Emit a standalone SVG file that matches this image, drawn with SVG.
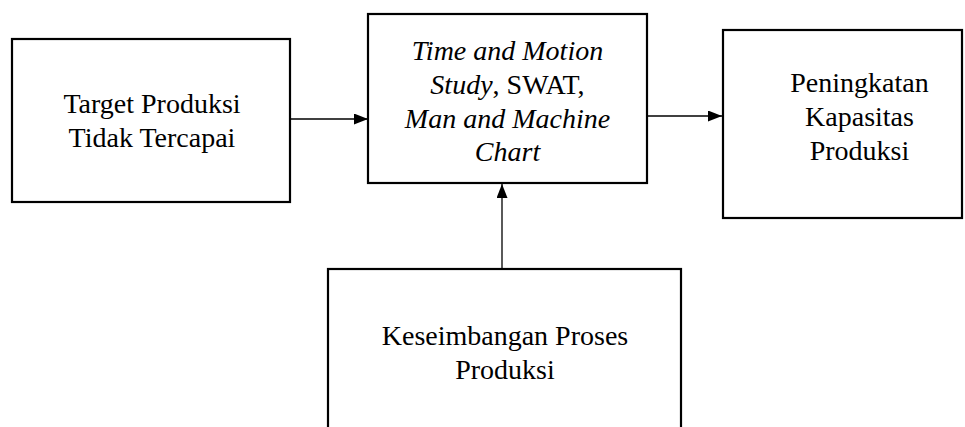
<svg xmlns="http://www.w3.org/2000/svg" width="965" height="427" viewBox="0 0 965 427">
<style>
.box{fill:#fff;stroke:#000;stroke-width:2.2}
.t{font-family:"Liberation Serif","Times New Roman",serif;font-size:28px;fill:#000;text-anchor:middle}
.i{font-style:italic}
.c{stroke:#000;stroke-width:1.3;fill:none}
</style>
<defs>
<marker id="ah" markerWidth="14" markerHeight="11" refX="14" refY="5.5" orient="auto" markerUnits="userSpaceOnUse">
<path d="M0,0 L14,5.5 L0,11 Z" fill="#000"/>
</marker>
</defs>
<rect width="965" height="427" fill="#fff"/>
<g id="connectors">
<line class="c" x1="290" y1="119" x2="368" y2="119" marker-end="url(#ah)"/>
<line class="c" x1="641" y1="116" x2="722" y2="116" marker-end="url(#ah)"/>
<line class="c" x1="502" y1="269" x2="502" y2="184" marker-end="url(#ah)"/>
</g>
<g id="target">
<rect class="box" x="12" y="39" width="278" height="163"/>
<text class="t" x="152" y="113">Target Produksi</text>
<text class="t" x="152" y="146.5">Tidak Tercapai</text>
</g>
<g id="method">
<rect class="box" x="368" y="14" width="279" height="169"/>
<text class="t" x="507.5" y="59.5"><tspan class="i">Time and Motion</tspan></text>
<text class="t" x="507.5" y="93.5"><tspan class="i">Study</tspan>, SWAT,</text>
<text class="t" x="507.5" y="127.5"><tspan class="i">Man and Machine</tspan></text>
<text class="t i" x="507.5" y="160.5">Chart</text>
</g>
<g id="result">
<rect class="box" x="723" y="30" width="239" height="188"/>
<text class="t" x="859.5" y="92">Peningkatan</text>
<text class="t" x="859.5" y="126">Kapasitas</text>
<text class="t" x="859.5" y="160">Produksi</text>
</g>
<g id="balance">
<rect class="box" x="328" y="269" width="353" height="180"/>
<text class="t" x="505" y="345">Keseimbangan Proses</text>
<text class="t" x="505" y="379">Produksi</text>
</g>
</svg>
